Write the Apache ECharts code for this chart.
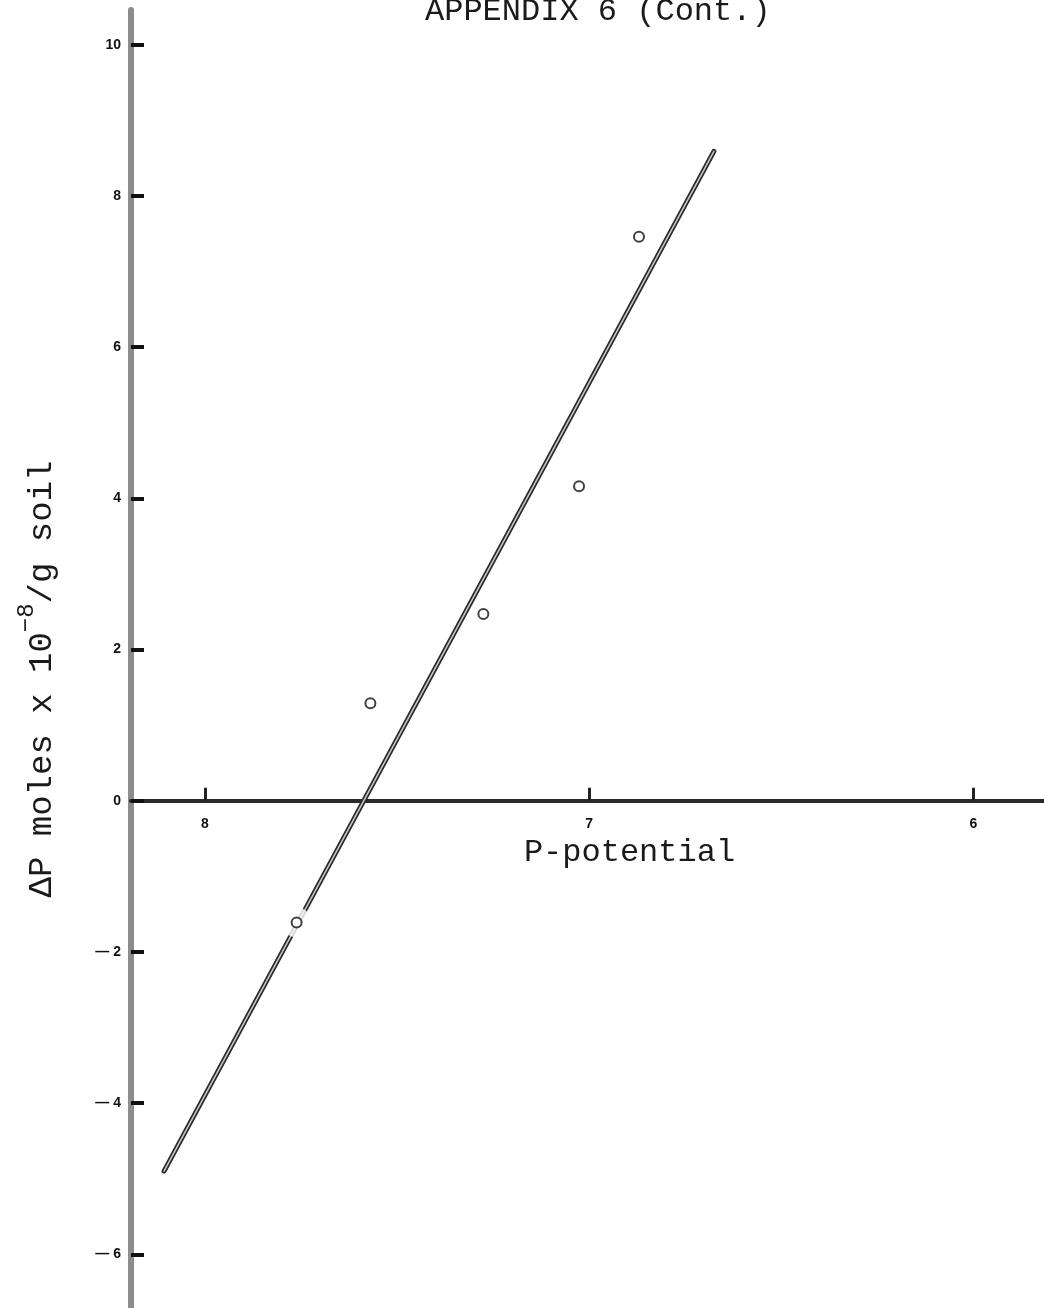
<!DOCTYPE html>
<html>
<head>
<meta charset="utf-8">
<script src="https://cdn.jsdelivr.net/npm/echarts@6/dist/echarts.min.js"></script>
<style>
html,body{margin:0;padding:0;background:#fff;}
#chart{width:1044px;height:1308px;}
</style>
</head>
<body>
<div id="chart"></div>
<script>
// Observed points: [P-potential, ΔP (moles x 10^-8 / g soil)]
const observedPoints = [
  [7.761, -1.61],
  [7.569, 1.29],
  [7.275, 2.47],
  [7.026, 4.16],
  [6.870, 7.46]
];
// Point lying on the fitted line (line is broken around it)
const pointOnLine = [[7.761, -1.61]];
// Fitted line end points
const fitLine = [
  [8.106, -4.90],
  [6.675, 8.59]
];
const xTicks = [6, 7, 8];
const yTicks = [-6, -4, -2, 0, 2, 4, 6, 8, 10];
const xRange = [5.816, 8.192];
const yRange = [-6.71, 10.46];

const W = 1044, H = 1308;
const plotLeft = 131, plotTop = 10;
const plotHeight = H - plotTop;
// pixel row of y = 0, where the P-potential axis crosses
const zeroPx = plotTop + plotHeight * yRange[1] / (yRange[1] - yRange[0]);

const chart = echarts.init(document.getElementById('chart'), null, {renderer: 'canvas'});
const mono = '"Liberation Mono", "DejaVu Sans Mono", monospace';
const sans = '"Liberation Sans", "DejaVu Sans", sans-serif';

chart.setOption({
  backgroundColor: '#ffffff',
  animation: false,
  title: {
    text: 'APPENDIX 6 (Cont.)',
    left: 420,
    top: -9,
    textStyle: {fontFamily: mono, fontSize: 32, fontWeight: 'normal', color: '#1a1a1a'}
  },
  grid: [
    {left: plotLeft, right: 0, top: plotTop, bottom: 0, containLabel: false, outerBoundsMode: 'none'},
    {left: plotLeft, right: 0, top: plotTop, bottom: H - zeroPx, containLabel: false, outerBoundsMode: 'none'}
  ],
  xAxis: [
    {
      gridIndex: 0, type: 'value', inverse: true, min: xRange[0], max: xRange[1], show: false
    },
    {
      gridIndex: 1, type: 'value', inverse: true, min: xRange[0], max: xRange[1],
      position: 'bottom',
      name: 'P-potential',
      nameLocation: 'middle',
      nameGap: 36,
      nameTextStyle: {fontFamily: mono, fontSize: 32, color: '#1a1a1a', padding: [0, 0, 0, 84]},
      axisLine: {onZero: false, lineStyle: {color: '#2a2a2a', width: 4}},
      axisTick: {inside: true, length: 13, customValues: xTicks, lineStyle: {color: '#222', width: 3}},
      axisLabel: {customValues: xTicks, margin: 16, fontFamily: sans, fontSize: 14, fontWeight: 'bold', color: '#111'},
      splitLine: {show: false}
    }
  ],
  yAxis: [
    {
      gridIndex: 0, type: 'value', min: yRange[0], max: yRange[1], position: 'left',
      name: '{a|ΔP moles x 10}{s|−8}{a|/g soil}',
      nameLocation: 'middle',
      nameGap: 72,
      nameTextStyle: {
        padding: [0, 40, 0, 0],
        rich: {
          a: {fontFamily: mono, fontSize: 34, color: '#1a1a1a', lineHeight: 44, verticalAlign: 'bottom'},
          s: {fontFamily: mono, fontSize: 24, color: '#1a1a1a', lineHeight: 44, verticalAlign: 'top'}
        }
      },
      axisLine: {onZero: false, lineStyle: {color: '#8c8c8c', width: 6}},
      axisTick: {inside: true, length: 13, customValues: yTicks, lineStyle: {color: '#111', width: 4}},
      axisLabel: {
        customValues: yTicks,
        margin: 10,
        fontFamily: sans, fontSize: 14, fontWeight: 'bold', color: '#111',
        formatter: v => v < 0 ? '— ' + Math.abs(v) : String(v)
      },
      splitLine: {show: false}
    },
    {
      gridIndex: 1, type: 'value', min: 0, max: yRange[1], show: false
    }
  ],
  series: [
    {
      type: 'line', xAxisIndex: 0, yAxisIndex: 0, data: fitLine, symbol: 'none', z: 2,
      lineStyle: {color: '#2b2b2b', width: 5, cap: 'round'}
    },
    {
      type: 'line', xAxisIndex: 0, yAxisIndex: 0, data: fitLine, symbol: 'none', z: 3,
      lineStyle: {color: '#c8c8c8', width: 1.5, cap: 'round'}
    },
    {
      type: 'scatter', xAxisIndex: 0, yAxisIndex: 0, data: pointOnLine, symbol: 'circle', symbolSize: 30, z: 4,
      itemStyle: {color: '#ffffff', borderWidth: 0}
    },
    {
      type: 'scatter', xAxisIndex: 0, yAxisIndex: 0, data: observedPoints, symbol: 'circle', symbolSize: 10, z: 5,
      itemStyle: {color: '#ffffff', borderColor: '#111', borderWidth: 2}
    }
  ]
});
</script>
</body>
</html>
